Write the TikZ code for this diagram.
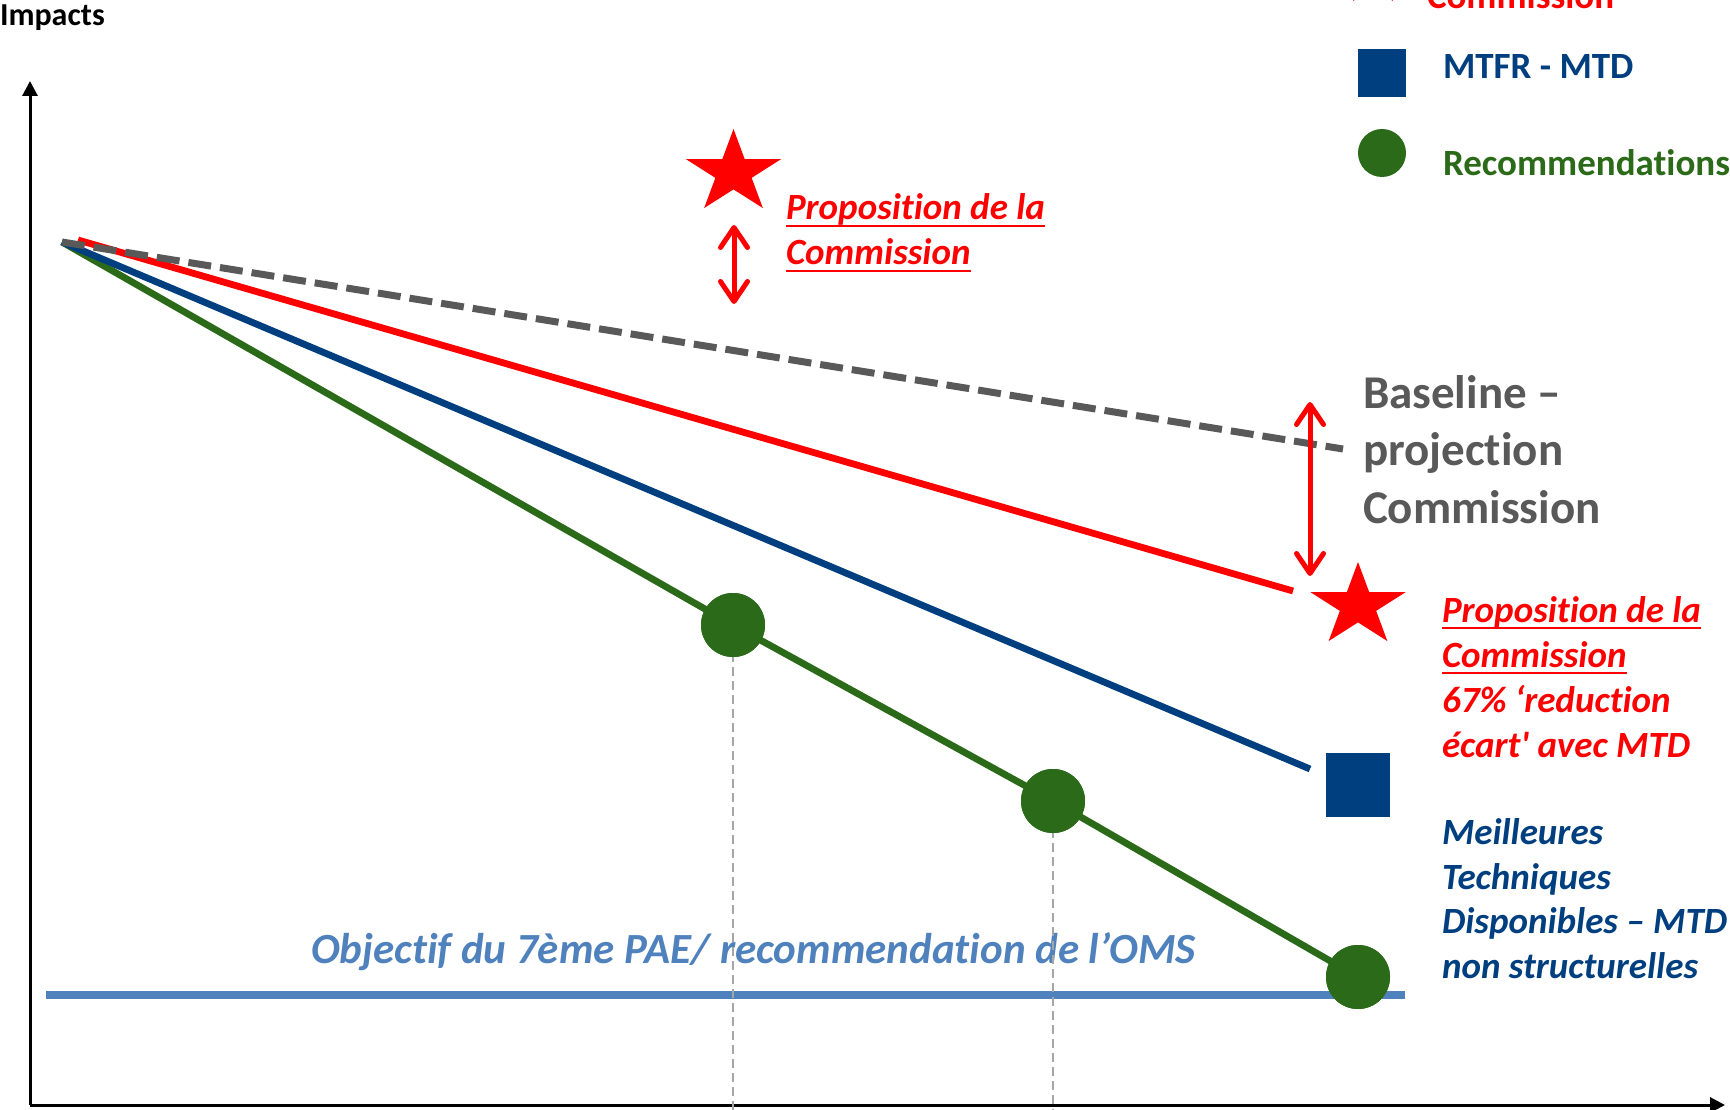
\documentclass[tikz,border=0pt]{standalone}
\usepackage{fontspec}
\setmainfont{Carlito}[Ligatures={NoCommon,NoRequired,NoContextual},Contextuals={NoAlternate}]
\usetikzlibrary{arrows.meta,calc}
\definecolor{cred}{HTML}{FF0000}
\definecolor{cgray}{HTML}{595959}
\definecolor{cblue}{HTML}{003F7F}
\definecolor{cgreen}{HTML}{2B6A18}
\definecolor{clight}{HTML}{4F81BD}
\definecolor{cdash}{HTML}{A6A6A6}
\tikzset{
  txt/.style={inner sep=0pt, outer sep=0pt, anchor=base west},
  legtxt/.style={txt, font=\fontsize{37}{45}\selectfont\bfseries},
  redlbl/.style={txt, text=cred, font=\fontsize{37}{45}\selectfont\bfseries\itshape},
  bluelbl/.style={txt, text=cblue, font=\fontsize{37}{45}\selectfont\bfseries\itshape},
  graylbl/.style={txt, text=cgray, font=\fontsize{47}{57}\selectfont\bfseries},
  axis/.style={line width=3pt, -{Triangle[length=15pt,width=15pt]}},
  trend/.style={line width=6.8pt},
  gdot/.style={circle, fill=cgreen, inner sep=0pt, minimum size=64pt},
  bsq/.style={rectangle, fill=cblue, inner sep=0pt, minimum size=64pt},
  guide/.style={cdash, line width=1.5pt, dash pattern=on 9pt off 5pt},
  dbl/.style={cred, line width=5pt, {Straight Barb[length=20pt,width=27pt,round]}-{Straight Barb[length=20pt,width=27pt,round]}},
  uline/.style={cred, line width=2.5pt},
  ostar/.pic={\fill[cred] (-90:43.7) \foreach \k in {1,...,9}{ -- ({-90+36*\k}:{mod(\k,2)==0 ? 43.7 : 16.7}) } -- cycle;}
}
\begin{document}
\begin{tikzpicture}[x=1pt,y=-1pt]
\fill[white] (0,0) rectangle (1730,1110);
\clip (0,0) rectangle (1730,1110);

% coordinates
\coordinate (org) at (30,1105);
\coordinate (ytop) at (30,81);
\coordinate (xend) at (1725,1105);
\coordinate (O) at (62,242);
\coordinate (Rs) at (78,240);
\coordinate (Re) at (1293,591);
\coordinate (De) at (1343,449);
\coordinate (Be) at (1310,769);
\coordinate (Ls) at (46,995);
\coordinate (Le) at (1405,995);
\coordinate (b1) at (733,1110);
\coordinate (b2) at (1053,1110);
\coordinate (a1t) at (734,225);
\coordinate (a1b) at (734,304);
\coordinate (a2t) at (1310,402);
\coordinate (a2b) at (1310,576);

% axes
\draw[axis] (org) -- (ytop);
\draw[axis] (org) -- (xend);
\node[legtxt, font=\fontsize{32}{36}\selectfont\bfseries] (imp) at (0,26) {Impacts};

% objective line and text
\draw[clight, line width=8pt] (Ls) -- (Le);
\node[txt, text=clight, font=\fontsize{43}{50}\selectfont\bfseries\itshape] (obj) at (311,963) {Objectif du 7ème PAE/ recommendation de l’OMS};

% markers positions
\node[gdot] (g1) at (733,625) {};
\node[gdot] (g2) at (1053,801) {};
\node[gdot] (g3) at (1358,977) {};

% guides
\draw[guide] (g1.center) -- (b1);
\draw[guide] (g2.center) -- (b2);

% trend lines
\draw[trend, cgreen] (O) -- (g1.center) -- (g2.center) -- (g3.center);
\draw[trend, cblue] (O) -- (Be);
\draw[trend, cred] (Rs) -- (Re);
\draw[line width=7pt, cgray, dash pattern=on 23pt off 9pt] (O) -- (De);

% markers on top
\node[gdot] at (g1) {};
\node[gdot] at (g2) {};
\node[gdot] at (g3) {};
\node[bsq] (sq) at (1358,785) {};
\pic[xscale=1.143] at (733.5,172.7) {ostar};
\pic[xscale=1.143] at (1358,605.7) {ostar};

% double arrows
\draw[dbl] (a1b) -- (a1t);
\draw[dbl] (a2b) -- (a2t);

% legend
\pic[scale=0.68, xscale=1.143] at (1373,-23) {ostar};
\node[legtxt, text=cred] (lc) at (1427,9) {Commission};
\node[bsq, minimum size=48pt] (lsq) at (1382,73) {};
\node[legtxt, text=cblue] (lm) at (1443,79) {MTFR - MTD};
\node[gdot, minimum size=48pt] (lg) at (1382,153) {};
\node[legtxt, text=cgreen] (lr) at (1443,176) {Recommendations};

% top red label
\node[redlbl] (p1) at (786,220) {Proposition de la};
\node[redlbl] (p2) at (786,265) {Commission};
\draw[uline] ($(p1.base west)+(0,6)$) -- ($(p1.base east)+(0,6)$);
\draw[uline] ($(p2.base west)+(0,6)$) -- ($(p2.base east)+(0,6)$);

% baseline label
\node[graylbl] (bl1) at (1363,408) {Baseline –};
\node[graylbl] (bl2) at (1363,465.5) {projection};
\node[graylbl] (bl3) at (1363,523) {Commission};

% right red label
\node[redlbl] (q1) at (1442,622) {Proposition de la};
\node[redlbl] (q2) at (1442,667) {Commission};
\node[redlbl] (q3) at (1442,712) {67\% ‘reduction};
\node[redlbl] (q4) at (1442,757) {écart\textquotesingle{} avec MTD};
\draw[uline] ($(q1.base west)+(0,6)$) -- ($(q1.base east)+(0,6)$);
\draw[uline] ($(q2.base west)+(0,6)$) -- ($(q2.base east)+(0,6)$);

% blue label
\node[bluelbl] (m1) at (1442,844) {Meilleures};
\node[bluelbl] (m2) at (1442,889) {Techniques};
\node[bluelbl] (m3) at (1442,933) {Disponibles – MTD};
\node[bluelbl] (m4) at (1442,978) {non structurelles};
\end{tikzpicture}
\end{document}
